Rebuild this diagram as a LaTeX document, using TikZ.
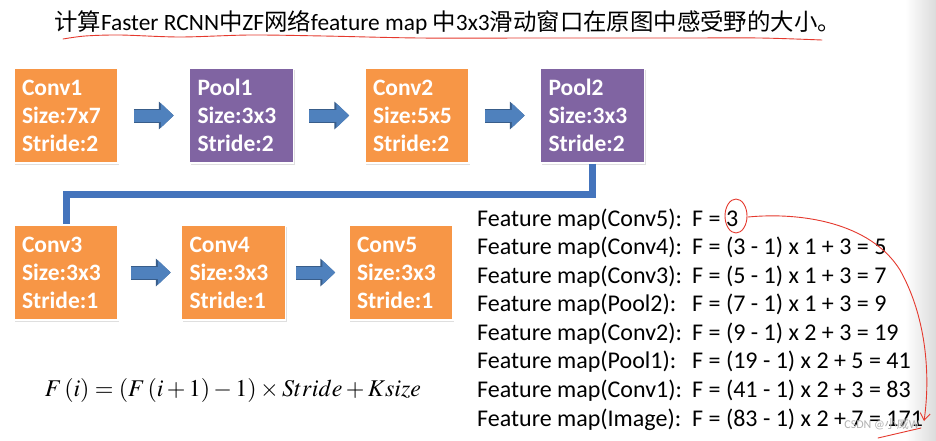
\documentclass[tikz,border=0pt]{standalone}
\usepackage{mathptmx}
\usepackage{fontspec}
\setmainfont{Carlito}
\newfontfamily\cjk{Noto Sans CJK SC}
\usetikzlibrary{positioning,shadows,arrows.meta,calc}
\definecolor{convorange}{HTML}{F79646}
\definecolor{poolpurple}{HTML}{8064A2}
\definecolor{flowblue}{HTML}{4F81BD}
\definecolor{flowedge}{HTML}{385D8A}
\definecolor{linkblue}{HTML}{4474BC}
\definecolor{penred}{HTML}{E5392E}
\tikzset{
  layer/.style={draw=white, line width=1.5pt, minimum width=104pt, minimum height=95pt,
    text width=88pt, align=left, inner xsep=8pt, text=white,
    font=\fontsize{23.5}{28}\selectfont\bfseries,
    drop shadow={opacity=0.25, shadow xshift=1pt, shadow yshift=-1.5pt}},
  conv/.style={layer, fill=convorange},
  pool/.style={layer, fill=poolpurple},
  fatarrow/.style={draw=flowblue, line width=12pt, -{Triangle[length=13pt, width=24pt]},
    preaction={draw=flowedge, line width=14pt, -{Triangle[length=15pt, width=27pt]}}},
  link/.style={draw=linkblue, line width=7pt},
  fmtext/.style={anchor=base west, inner sep=0pt, font=\fontsize{24}{24}\selectfont},
  pen/.style={draw=penred, line width=0.9pt, line cap=round}
}
\begin{document}
\begin{tikzpicture}[x=1pt, y=-1pt]
\useasboundingbox (0,0) rectangle (936,440);
\fill[white] (0,0) rectangle (936,440);
\shade[left color=white, right color=black!14] (905,0) rectangle (936,440);

% title
\node[anchor=west, inner sep=0pt, font=\fontsize{23.4}{23.4}\selectfont] (title) at (54,22)
 {{\cjk 计算}Faster RCNN{\cjk 中}ZF{\cjk 网络}feature map {\cjk 中}3x3{\cjk 滑动窗口在原图中感受野的大小。}};
\draw[pen] plot[smooth] coordinates {(63,39) (85,36) (120,35) (180,37) (250,35) (324,36) (420,38) (540,38) (680,38) (760,38) (822,40)};

% first row
\node[conv] (conv1) at (66,115.5) {Conv1\\Size:7x7\\Stride:2};
\node[pool, right=70pt of conv1] (pool1) {Pool1\\Size:3x3\\Stride:2};
\node[conv, right=70pt of pool1] (conv2) {Conv2\\Size:5x5\\Stride:2};
\node[pool, right=70pt of conv2] (pool2) {Pool2\\Size:3x3\\Stride:2};

% second row
\node[conv] (conv3) at (66,272.5) {Conv3\\Size:3x3\\Stride:1};
\node[conv, right=62pt of conv3] (conv4) {Conv4\\Size:3x3\\Stride:1};
\node[conv, right=62pt of conv4] (conv5) {Conv5\\Size:3x3\\Stride:1};

\draw[fatarrow] ($(conv1.east)+(15,0)$) -- ($(pool1.west)+(-15,0)$);
\draw[fatarrow] ($(pool1.east)+(15,0)$) -- ($(conv2.west)+(-15,0)$);
\draw[fatarrow] ($(conv2.east)+(15,0)$) -- ($(pool2.west)+(-15,0)$);
\draw[fatarrow] ($(conv3.east)+(12,0)$) -- ($(conv4.west)+(-10,0)$);
\draw[fatarrow] ($(conv4.east)+(10,0)$) -- ($(conv5.west)+(-13,0)$);

\draw[link] (pool2.south) -- ++(0,31) -| (conv3.north);

% receptive field, from the top layer down
\foreach \src/\val [count=\i] in {Conv5/{3}, Conv4/{(3 - 1) x 1 + 3 = 5},
  Conv3/{(5 - 1) x 1 + 3 = 7}, Pool2/{(7 - 1) x 1 + 3 = 9},
  Conv2/{(9 - 1) x 2 + 3 = 19}, Pool1/{(19 - 1) x 2 + 5 = 41},
  Conv1/{(41 - 1) x 2 + 3 = 83}, Image/{(83 - 1) x 2 + 7 = 171}} {
  \node[fmtext] (lbl\i) at (477,{226+28.57*(\i-1)}) {Feature map(\src):};
  \node[fmtext] (eq\i) at (692,{226+28.57*(\i-1)}) {F = \val};
}

\node[font=\fontsize{24}{24}\selectfont] (rule) at (233,390)
 {$F\,(i) = (F\,(i+1)-1)\times Stride + Ksize$};

% pen marks
\draw[pen] (736,216) ellipse [x radius=11, y radius=17];
\draw[pen, -{Straight Barb[length=7pt, width=10pt]}] (748,217) .. controls (800,212) and (870,222) .. (900,270)
  .. controls (928,320) and (930,380) .. (924,421);
\draw[pen] (878,438) -- (921,428);

\node[font=\fontsize{12}{12}\selectfont, text=gray!60] (mark) at (882,424) {CSDN @{\cjk 小威}W};
\end{tikzpicture}
\end{document}
